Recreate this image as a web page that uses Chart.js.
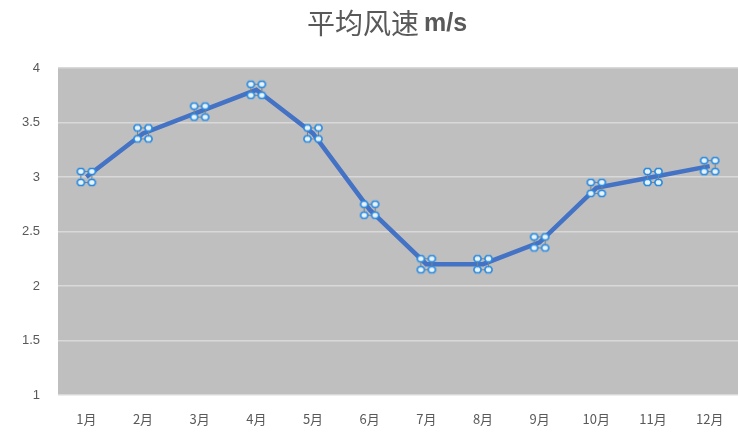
<!DOCTYPE html>
<html><head><meta charset="utf-8">
<script src="https://cdn.jsdelivr.net/npm/chart.js@4/dist/chart.umd.min.js"></script>
<style>html,body{margin:0;padding:0;background:#fff}#wrap{width:738px;height:441px}</style>
</head><body><div id="wrap"><canvas id="c" width="738" height="441"></canvas></div>
<script>
const categories = ['1月','2月','3月','4月','5月','6月','7月','8月','9月','10月','11月','12月'];
const windSpeed = [3.0, 3.4, 3.6, 3.8, 3.4, 2.7, 2.2, 2.2, 2.4, 2.9, 3.0, 3.1];
const yTicks = [1, 1.5, 2, 2.5, 3, 3.5, 4];
const titleMain = '平均风速';
const titleUnit = 'm/s';

function makeMarker(){
  const s = 22, cv = document.createElement('canvas');
  cv.width = s; cv.height = s;
  const g = cv.getContext('2d');
  const a = 5.5, b = 16.5;
  g.strokeStyle = '#808080'; g.lineWidth = 1.2;
  g.beginPath();
  g.moveTo(a,a); g.lineTo(b,a); g.lineTo(b,b); g.lineTo(a,b); g.closePath(); g.stroke();
  [[a,a],[b,a],[a,b],[b,b]].forEach(([x,y])=>{
    g.beginPath();
    g.moveTo(x-3.5,y-1); g.lineTo(x-2,y-3); g.lineTo(x+2,y-3); g.lineTo(x+3.5,y-1);
    g.lineTo(x+3.5,y+1); g.lineTo(x+2,y+3); g.lineTo(x-2,y+3); g.lineTo(x-3.5,y+1); g.closePath();
    g.fillStyle = '#e8f3fd'; g.fill();
    g.strokeStyle = '#2a8be0'; g.lineWidth = 1.6; g.stroke();
  });
  return cv;
}
const marker = makeMarker();

const bgPlugin = {
  id: 'bg',
  beforeDraw(chart){
    const {ctx, chartArea:{left,top,right,bottom}} = chart;
    ctx.save(); ctx.fillStyle = '#bfbfbf';
    ctx.fillRect(left, top, right-left, bottom-top); ctx.restore();
  }
};
const titlePlugin = {
  id: 'ttl',
  afterDraw(chart){
    const ctx = chart.ctx;
    ctx.save();
    ctx.fillStyle = '#595959'; ctx.textBaseline = 'middle'; ctx.textAlign = 'left';
    const f1 = '28px "Noto Sans CJK SC", sans-serif';
    const f2 = 'bold 25px "Liberation Sans Narrow", "Liberation Sans", sans-serif';
    ctx.font = f1; const w1 = ctx.measureText(titleMain).width;
    ctx.font = f2; const w2 = ctx.measureText(titleUnit).width;
    const gap = 5, total = w1 + gap + w2;
    const cx = 387, y = 23;
    let x = cx - total/2;
    ctx.font = f1; ctx.fillText(titleMain, x, y);
    ctx.font = f2; ctx.fillText(titleUnit, x + w1 + gap, y + 1);
    ctx.restore();
  }
};

new Chart(document.getElementById('c'), {
  type: 'line',
  data: { labels: categories, datasets: [{
    data: windSpeed, borderColor: '#4472c4', borderWidth: 4.5, tension: 0,
    pointStyle: marker, pointRadius: 10, pointHoverRadius: 10
  }]},
  options: {
    responsive: false, animation: false, devicePixelRatio: 1,
    layout: { autoPadding: false, padding: { left: 0, right: 0, top: 68, bottom: 0 } },
    plugins: {
      legend: { display: false }, tooltip: { enabled: false }, title: { display: false }
    },
    scales: {
      x: {
        offset: true,
        grid: { display: false, drawTicks: false }, border: { display: false },
        ticks: { color: '#595959', padding: 16, font: { family: '"Noto Sans CJK SC", sans-serif', size: 13 }, maxRotation: 0 },
        afterFit(s){ s.height = 46; s.paddingLeft = 0; s.paddingRight = 0; }
      },
      y: {
        min: 1, max: 4,
        afterBuildTicks(s){ s.ticks = yTicks.map(v=>({value:v})); },
        grid: { color: '#d9d9d9', lineWidth: 1.5, drawTicks: false }, border: { display: false },
        ticks: { color: '#595959', padding: 18, font: { family: '"Liberation Sans", sans-serif', size: 13 },
          callback: v => String(v) },
        afterFit(s){ s.width = 58; }
      }
    }
  },
  plugins: [bgPlugin, titlePlugin]
});
</script></body></html>
